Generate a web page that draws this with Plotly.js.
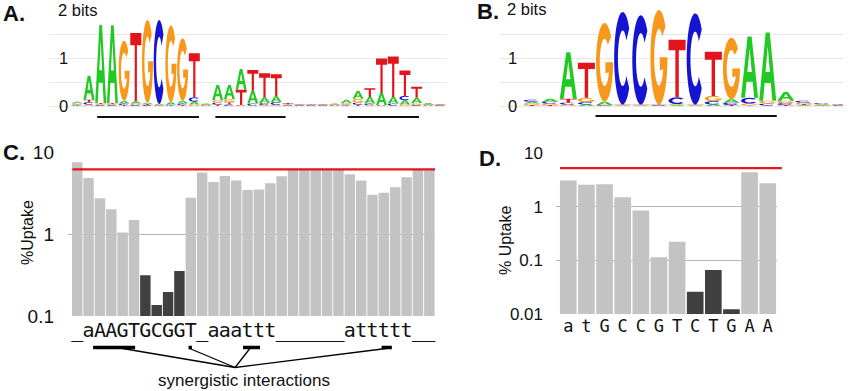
<!DOCTYPE html>
<html><head><meta charset="utf-8">
<script src="https://cdn.plot.ly/plotly-3.0.1.min.js"></script>
<style>html,body{margin:0;padding:0;background:#fff}#chart{width:850px;height:391px}</style>
</head><body><div id="chart"></div>
<script>
// ---------- Panel A: sequence logo (bits), positions 1..32 ----------
const logoA_pos = [1,2,3,4,5,6,7,8,9,10,11,12,13,14,15,16,17,18,19,20,21,22,23,24,25,26,27,28,29,30,31,32];
const logoA_A = [0.04,0.50,1.63,1.62,0.06,0.05,0.03,0.02,0.05,0.06,0.06,0.02,0.32,0.30,0.43,0.27,0.12,0.13,0.01,0.01,0.01,0.01,0.02,0.07,0.16,0.14,0.25,0.14,0.09,0.11,0.03,0.01];
const logoA_C = [0.02,0.05,0.02,0.02,0.03,0.02,0.02,1.75,0.02,0.03,0.09,0.01,0.04,0.03,0.01,0.04,0.04,0.06,0.01,0.01,0.01,0.01,0.01,0.02,0.04,0.03,0.01,0.04,0.09,0.02,0.01,0.01];
const logoA_G = [0.02,0.03,0.02,0.02,1.25,0.03,1.72,0.01,1.60,1.30,0.03,0.01,0.05,0.06,0.01,0.01,0.02,0.02,0.01,0.01,0.01,0.01,0.01,0.03,0.08,0.02,0.01,0.01,0.03,0.04,0.01,0.01];
const logoA_T = [0.01,0.05,0.02,0.02,0.02,1.42,0.02,0.01,0.01,0.02,0.92,0.01,0.03,0.05,0.32,0.43,0.50,0.45,0.03,0.01,0.01,0.01,0.01,0.01,0.03,0.18,0.72,0.84,0.53,0.23,0.01,0.01];
const motifSpansA = [[2.7,11.4],[12.8,18.8],[24.1,30.2]];

// ---------- Panel B: sequence logo (bits), positions -1..16 ----------
const logoB_pos = [-1,0,1,2,3,4,5,6,7,8,9,10,11,12,13,14,15,16];
const logoB_A = [0.04,0.06,0.97,0.03,0.07,0.01,0.01,0.01,0.02,0.01,0.03,0.07,1.28,1.42,0.18,0.02,0.02,0.01];
const logoB_C = [0.04,0.04,0.04,0.05,0.01,1.93,1.86,0.01,0.14,1.90,0.07,0.05,0.12,0.04,0.04,0.04,0.02,0.01];
const logoB_G = [0.03,0.03,0.03,0.09,1.64,0.01,0.01,1.97,0.02,0.01,0.11,1.28,0.04,0.06,0.05,0.03,0.01,0.01];
const logoB_T = [0.02,0.02,0.08,0.73,0.01,0.01,0.01,0.01,1.20,0.01,0.92,0.02,0.01,0.01,0.02,0.02,0.01,0.01];
const motifSpansB = [[2.5,12.5]];

// ---------- Panel C: % uptake per position ----------
const labelsC = ['_','a','A','A','G','T','G','C','G','G','T','_','a','a','a','t','t','t','_','_','_','_','_','_','a','t','t','t','t','t','_','_'];
const uptakeC = [7.55,4.85,2.74,2.01,1.05,1.49,0.314,0.136,0.196,0.355,2.79,5.65,4.34,5.14,4.51,3.47,3.50,4.18,5.09,6.2,6.2,6.2,6.2,6.2,5.39,4.51,3.04,3.21,3.73,4.94,6.2,6.2];
const strongC = [7,8,9,10];
const thresholdC = 6.2;
const interactionSpans = [[2.4,6.1],[10.8,11.1],[15.6,17.1],[27.8,28.7]];
const interactionFrom = [5.0,10.9,16.2,28.2];
const interactionApex = 14.9;
const interactionLabel = 'synergistic interactions';

// ---------- Panel D: % uptake per position ----------
const labelsD = ['a','t','G','C','C','G','T','C','T','G','A','A'];
const uptakeD = [3.1,2.6,2.65,1.51,0.855,0.115,0.223,0.026,0.066,0.0122,4.43,2.76];
const strongD = [8,9,10];
const thresholdD = 5.3;

// ---------- helpers ----------
const W = 850, H = 391;
const px = v => v / W, py = v => 1 - v / H;
const COLORS = {A:'#22c922', C:'#1414d2', G:'#f7981d', T:'#e3141c'};

function glyphPath(letter, x0, x1, y0, y1) {
  const sx = u => (x0 + u * (x1 - x0)).toFixed(4);
  const sy = v => (y0 + v * (y1 - y0)).toFixed(5);
  const poly = arr => 'M' + arr.map(p => sx(p[0]) + ',' + sy(p[1])).join('L') + 'Z';
  const ell = (a, rx, ry) => [0.5 + rx * Math.cos(a * Math.PI / 180), 0.5 + ry * Math.sin(a * Math.PI / 180)];
  if (letter === 'A') return poly([[0,0],[0.38,1],[0.62,1],[1,0],[0.77,0],[0.68,0.26],[0.32,0.26],[0.23,0]]) + poly([[0.63,0.42],[0.5,0.8],[0.37,0.42]]);
  if (letter === 'T') return poly([[0,1],[1,1],[1,0.82],[0.6,0.82],[0.6,0],[0.4,0],[0.4,0.82],[0,0.82]]);
  if (letter === 'C') {
    const o = [];
    for (let a = 40; a <= 320; a += 8) o.push(ell(a, 0.5, 0.5));
    for (let a = 320; a >= 40; a -= 8) o.push(ell(a, 0.28, 0.3));
    return poly(o);
  }
  const o = [];
  for (let a = 40; a <= 360; a += 8) o.push(ell(a, 0.5, 0.5));
  o.push([1,0.5],[0.55,0.5],[0.55,0.36]);
  for (let a = 335; a >= 40; a -= 8) o.push(ell(a, 0.28, 0.3));
  return poly(o);
}

function logoShapes(pos, A, C, G, T, xref, yref) {
  const out = [];
  pos.forEach((p, i) => {
    const stack = [['A', A[i]], ['C', C[i]], ['G', G[i]], ['T', T[i]]].sort((a, b) => a[1] - b[1]);
    let base = 0;
    stack.forEach(([L, h]) => {
      out.push({type:'path', xref, yref, layer:'above', fillrule:'evenodd',
        path: glyphPath(L, p - 0.47, p + 0.47, base, base + h),
        fillcolor: COLORS[L], line:{width:0}});
      base += h;
    });
  });
  return out;
}

const idxC = labelsC.map((_, i) => i + 1);
const idxD = labelsD.map((_, i) => i + 1);
const LIGHT = '#c3c3c3', DARK = '#404040';

const traces = [
  {type:'bar', x: idxC, y: uptakeC, xaxis:'x3', yaxis:'y3',
   marker:{color: idxC.map(i => strongC.includes(i) ? DARK : LIGHT), line:{width:0}}, hoverinfo:'y'},
  {type:'bar', x: idxD, y: uptakeD, xaxis:'x4', yaxis:'y4',
   marker:{color: idxD.map(i => strongD.includes(i) ? DARK : LIGHT), line:{width:0}}, hoverinfo:'y'}
];

const shapes = []
  .concat(logoShapes(logoA_pos, logoA_A, logoA_C, logoA_G, logoA_T, 'x', 'y'))
  .concat(logoShapes(logoB_pos, logoB_A, logoB_C, logoB_G, logoB_T, 'x2', 'y2'));

motifSpansA.forEach(s => shapes.push({type:'line', xref:'x', yref:'paper', x0:s[0], x1:s[1], y0:py(117), y1:py(117), line:{color:'#111', width:2}}));
motifSpansB.forEach(s => shapes.push({type:'line', xref:'x2', yref:'paper', x0:s[0], x1:s[1], y0:py(116), y1:py(116), line:{color:'#111', width:2}}));

shapes.push({type:'line', xref:'x3 domain', yref:'y3', x0:0.012, x1:1, y0:thresholdC, y1:thresholdC, line:{color:'#e8141c', width:2.2}, layer:'above'});
shapes.push({type:'line', xref:'x4 domain', yref:'y4', x0:0.018, x1:1.023, y0:thresholdD, y1:thresholdD, line:{color:'#e8141c', width:2.2}, layer:'above'});

interactionSpans.forEach(s => shapes.push({type:'line', xref:'x3', yref:'paper', x0:s[0], x1:s[1], y0:py(347.5), y1:py(347.5), line:{color:'#000', width:3.5}}));
interactionFrom.forEach(x => shapes.push({type:'line', xref:'x3', yref:'paper', x0:x, x1:interactionApex, y0:py(348.5), y1:py(367.5), line:{color:'#000', width:1.3}}));

const FONT = 'Liberation Sans, Arial, sans-serif';
const ann = (text, x, y, size, opts) => Object.assign({text, x:px(x), y:py(y), xref:'paper', yref:'paper', xanchor:'center', yanchor:'middle', showarrow:false, font:{family:FONT, size, color:'#111'}}, opts || {});

const annotations = [
  ann('<b>A.</b>', 14, 13, 22),
  ann('<b>B.</b>', 488, 11, 22),
  ann('<b>C.</b>', 14, 153, 22),
  ann('<b>D.</b>', 490, 158, 22),
  ann('2 bits', 56, 10, 16.5, {xanchor:'left'}),
  ann('2 bits', 505, 9, 16.5, {xanchor:'left'}),
  ann('%Uptake', 27, 232, 16, {textangle:-90}),
  ann('% Uptake', 506, 241, 16, {textangle:-90}),
  ann(interactionLabel, 244, 380, 17)
];

const logoY = {domain:[py(118), py(8)], range:[-0.25, 2.042], tickvals:[0,0.5,1,1.5], ticktext:['0','','1',''],
  gridcolor:'#e8e8e8', gridwidth:1, zeroline:false, ticks:'', showline:false, ticklabelposition:'inside',
  tickfont:{family:FONT, size:16.5, color:'#111'}, fixedrange:true};

const layout = {
  width: W, height: H, margin:{l:0, r:0, t:0, b:0}, paper_bgcolor:'#fff', plot_bgcolor:'rgba(0,0,0,0)',
  showlegend:false, bargap:0.08,
  xaxis: {domain:[px(50), px(446)], range:[-1.333, 32.51], showgrid:false, zeroline:false, showticklabels:false, ticks:'', anchor:'y'},
  yaxis: Object.assign({}, logoY, {anchor:'x', ticklabelstandoff:6}),
  xaxis2: {domain:[px(500), px(843)], range:[-2.767, 16.152], showgrid:false, zeroline:false, showticklabels:false, ticks:'', anchor:'y2'},
  yaxis2: Object.assign({}, logoY, {anchor:'x2', ticklabelstandoff:5}),
  xaxis3: {domain:[px(68), px(435)], range:[0.19, 32.5], tickvals: idxC, ticktext: labelsC, ticks:'', showgrid:false, zeroline:false, showline:false,
    tickfont:{family:'DejaVu Sans Mono, monospace', size:20, color:'#111'}, anchor:'y3', tickangle:0},
  yaxis3: {type:'log', domain:[py(316), py(152.3)], range:[-1, 1], tickvals:[0.1,1,10], ticktext:['0.1','1','10'],
    gridcolor:'#b4b4b4', gridwidth:1, zeroline:false, ticks:'', showline:false, ticklabelstandoff:13,
    tickfont:{family:FONT, size:19, color:'#111'}, anchor:'x3'},
  xaxis4: {domain:[px(556), px(776.7)], range:[0.322, 12.495], tickvals: idxD, ticktext: labelsD, ticks:'', showgrid:false, zeroline:false, showline:false,
    tickfont:{family:'DejaVu Sans Mono, monospace', size:17, color:'#111'}, anchor:'y4', tickangle:0},
  yaxis4: {type:'log', domain:[py(314), py(153.3)], range:[-2, 1], tickvals:[0.01,0.1,1,10], ticktext:['0.01','0.1','1','10'],
    gridcolor:'#b4b4b4', gridwidth:1, zeroline:false, ticks:'', showline:false, ticklabelstandoff:12,
    tickfont:{family:FONT, size:17, color:'#111'}, anchor:'x4'},
  shapes, annotations
};

Plotly.newPlot('chart', traces, layout, {displayModeBar:false, staticPlot:true});
</script>
</body></html>
